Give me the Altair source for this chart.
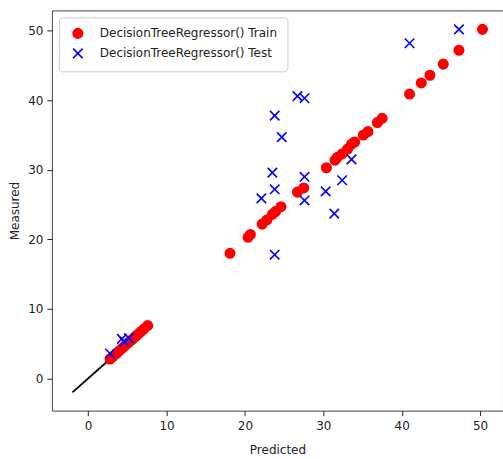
import altair as alt
import pandas as pd

train_pred = [2.8, 3.2, 3.6, 4.0, 4.4, 4.8, 5.2, 5.6, 6.0, 6.3, 6.7, 7.1, 7.6,
              18.1, 20.4, 20.7, 22.2, 22.8, 23.5, 23.9, 24.6, 26.7, 27.5,
              30.4, 31.5, 31.8, 32.4, 33.1, 33.6, 34.0, 35.1, 35.7, 36.9, 37.5,
              41.0, 42.5, 43.6, 45.3, 47.3, 50.3]
train_meas = [2.8, 3.2, 3.6, 4.0, 4.4, 4.8, 5.2, 5.6, 6.0, 6.3, 6.7, 7.1, 7.6,
              18.0, 20.3, 20.7, 22.2, 22.8, 23.6, 24.0, 24.7, 26.8, 27.4,
              30.3, 31.4, 31.8, 32.3, 33.0, 33.7, 34.0, 35.0, 35.5, 36.8, 37.4,
              40.9, 42.5, 43.6, 45.2, 47.2, 50.2]
test_pred = [2.8, 4.3, 4.6, 5.2, 26.7, 27.6, 23.8, 24.7, 23.5, 27.6, 23.8, 22.1,
             27.6, 23.8, 30.3, 33.6, 32.4, 31.4, 41.0, 47.3]
test_meas = [3.6, 5.7, 5.3, 5.8, 40.6, 40.3, 37.8, 34.7, 29.6, 29.0, 27.2, 25.9,
             25.6, 17.8, 26.9, 31.5, 28.5, 23.7, 48.2, 50.2]
line_x = [-2.0, 2.8]
line_y = [-2.0, 2.8]

labels = ["DecisionTreeRegressor() Train", "DecisionTreeRegressor() Test"]
ticks = [0, 10, 20, 30, 40, 50]
dom = [-4.62, 52.92]

pts = pd.DataFrame({
    "Predicted": train_pred + test_pred,
    "Measured": train_meas + test_meas,
    "Series": [labels[0]] * len(train_pred) + [labels[1]] * len(test_pred),
    "order": list(range(len(train_pred) + len(test_pred))),
})
line_df = pd.DataFrame({"Predicted": line_x, "Measured": line_y})

FONT = "DejaVu Sans"
xscale = alt.Scale(domain=dom, nice=False, zero=False)
yscale = alt.Scale(domain=dom, nice=False, zero=False)
xaxis = alt.Axis(values=ticks, grid=False, domain=False, tickSize=5, tickColor="#222",
                 labelFontSize=12, labelFont=FONT, labelColor="#222", labelPadding=5,
                 titleFontSize=12, titleFont=FONT, titleFontWeight="normal",
                 titleColor="#222", titlePadding=13)
yaxis = alt.Axis(values=ticks, grid=False, domain=False, tickSize=5, tickColor="#222",
                 labelFontSize=12, labelFont=FONT, labelColor="#222", labelPadding=4,
                 titleFontSize=12, titleFont=FONT, titleFontWeight="normal",
                 titleColor="#222", titlePadding=6)

xpath = "M-1,-1L1,1M-1,1L1,-1"

line = alt.Chart(line_df).mark_line(color="black", strokeWidth=1.8).encode(
    x=alt.X("Predicted:Q", scale=xscale, axis=xaxis, title="Predicted"),
    y=alt.Y("Measured:Q", scale=yscale, axis=yaxis, title="Measured"),
)

legend = alt.Legend(title=None, orient="none", legendX=7, legendY=7,
                    labelFont=FONT, labelFontSize=12, labelColor="#222", labelLimit=400,
                    padding=10, labelOffset=16, rowPadding=4,
                    strokeColor="#cccccc", fillColor="white", cornerRadius=3,
                    symbolSize=90, symbolStrokeWidth=1.6, symbolOffset=3)

points = alt.Chart(pts).mark_point(opacity=1, strokeWidth=1.6, size=90).encode(
    x=alt.X("Predicted:Q", scale=xscale),
    y=alt.Y("Measured:Q", scale=yscale),
    shape=alt.Shape("Series:N", scale=alt.Scale(domain=labels, range=["circle", xpath]), legend=legend),
    fill=alt.Fill("Series:N", scale=alt.Scale(domain=labels, range=["#ff0000", "transparent"]), legend=legend),
    stroke=alt.Stroke("Series:N", scale=alt.Scale(domain=labels, range=["#ff0000", "#0000ff"]), legend=legend),
    order=alt.Order("order:Q"),
)

chart = alt.layer(line, points).properties(
    width=452, height=401,
    autosize=alt.AutoSizeParams(type="none"),
    padding={"left": 52, "top": 10, "right": 0, "bottom": 48},
).configure(
    background="white",
    view=alt.ViewConfig(stroke="#444", strokeWidth=1),
)

chart.save("out.html", embed_options={"renderer": "svg", "actions": False})
